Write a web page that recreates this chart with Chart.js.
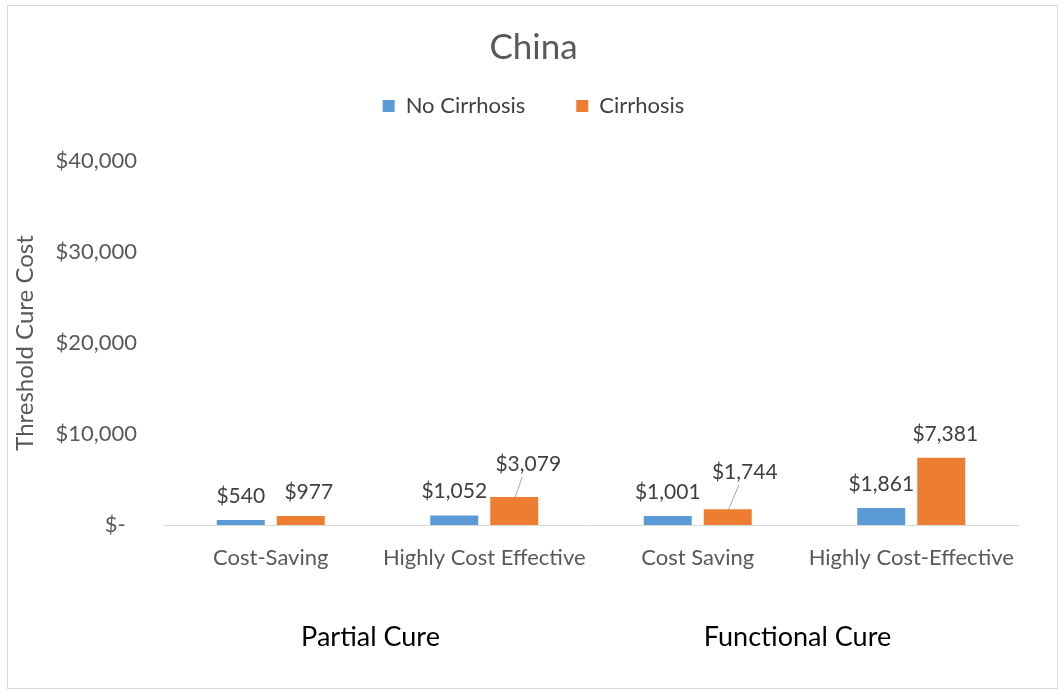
<!DOCTYPE html>
<html>
<head>
<meta charset="utf-8">
<script src="https://cdn.jsdelivr.net/npm/chart.js@4.4.1/dist/chart.umd.min.js"></script>
<style>
  html, body { margin: 0; padding: 0; background: #fff; }
  #frame { position: absolute; left: 7px; top: 5px; width: 1049px; height: 682px; border: 1px solid #d9d9d9; }
  #wrap { position: absolute; left: 0; top: 0; width: 1061px; height: 691px; }
</style>
</head>
<body>
<div id="frame"></div>
<div id="wrap"><canvas id="chart"></canvas></div>
<script>
    var categories = ['Cost-Saving', 'Highly Cost Effective', 'Cost Saving', 'Highly Cost-Effective'];
    var groups = ['Partial Cure', 'Functional Cure'];
    var noCirrhosis = [540, 1052, 1001, 1861];
    var cirrhosis = [977, 3079, 1744, 7381];
    var yTicks = [0, 10000, 20000, 30000, 40000];

    var FONT = 'Lato';
    var GREY = '#595959';

    function money(v) {
        if (v === 0) return '$-  ';
        return '$' + v.toLocaleString('en-US');
    }

    // value labels above the bars, a couple of them pulled out with a leader line
    var barLabels = {
        id: 'barLabels',
        afterDatasetsDraw: function(chart, args, opts) {
            var ctx = chart.ctx;
            ctx.save();
            ctx.font = '21px ' + FONT;
            ctx.fillStyle = '#404040';
            ctx.textAlign = 'center';
            ctx.textBaseline = 'middle';
            chart.data.datasets.forEach(function(ds, di) {
                chart.getDatasetMeta(di).data.forEach(function(bar, i) {
                    var nudge = opts.nudge[di + '-' + i] || [0, 0];
                    var lx = bar.x + nudge[0];
                    var ly = bar.y - 24 + nudge[1];
                    if (nudge[0] > 10) {
                        ctx.strokeStyle = '#a6a6a6';
                        ctx.lineWidth = 1;
                        ctx.beginPath();
                        ctx.moveTo(bar.x + 1, bar.y);
                        ctx.lineTo(lx - 6, ly + 13);
                        ctx.stroke();
                    }
                    ctx.fillText(money(ds.data[i]), lx, ly);
                });
            });
            ctx.restore();
        }
    };

    // make room between the legend and the plot
    var legendSpace = {
        id: 'legendSpace',
        beforeInit: function(chart) {
            var fit = chart.legend.fit;
            chart.legend.fit = function() {
                fit.bind(chart.legend)();
                this.height += 34;
            };
        }
    };

    new Chart(document.getElementById('chart'), {
        type: 'bar',
        data: {
            labels: categories,
            datasets: [
                { label: 'No Cirrhosis', data: noCirrhosis, backgroundColor: '#5b9bd5', xAxisID: 'x' },
                { label: 'Cirrhosis', data: cirrhosis, backgroundColor: '#ed7d31', xAxisID: 'x' }
            ]
        },
        plugins: [barLabels, legendSpace],
        options: {
            responsive: true,
            maintainAspectRatio: false,
            animation: false,
            datasets: { bar: { categoryPercentage: 0.562, barPercentage: 0.8 } },
            layout: { padding: { left: 6, right: 0, top: 0, bottom: 0 } },
            plugins: {
                title: {
                    display: true,
                    text: 'China',
                    color: GREY,
                    font: { family: FONT, size: 35, weight: 'normal' },
                    padding: { top: 27, bottom: -25 }
                },
                legend: {
                    position: 'top',
                    labels: {
                        color: '#404040',
                        font: { family: FONT, size: 22 },
                        boxWidth: 12,
                        boxHeight: 12,
                        padding: 51
                    }
                },
                tooltip: { enabled: false },
                barLabels: { nudge: { '1-0': [8, 0], '1-1': [14, -9], '1-2': [17, -13], '1-3': [4, 0] } }
            },
            scales: {
                x: {
                    position: 'bottom',
                    grid: { display: false },
                    border: { display: true, color: '#d9d9d9', width: 1 },
                    ticks: { color: GREY, font: { family: FONT, size: 22 }, padding: 12, maxRotation: 0, autoSkip: false },
                    afterFit: function(s) { s.height = 70; }
                },
                groups: {
                    type: 'category',
                    position: 'bottom',
                    labels: groups,
                    grid: { display: false },
                    border: { display: false },
                    ticks: { color: '#000', font: { family: FONT, size: 27 }, padding: 18, maxRotation: 0, labelOffset: -7 },
                    afterFit: function(s) { s.height = 96; }
                },
                y: {
                    min: 0,
                    max: 40000,
                    grid: { display: false },
                    border: { display: false },
                    afterBuildTicks: function(s) { s.ticks = yTicks.map(function(v) { return { value: v }; }); },
                    ticks: { color: GREY, font: { family: FONT, size: 22 }, padding: 19, callback: money },
                    title: {
                        display: true,
                        text: 'Threshold Cure Cost',
                        color: GREY,
                        font: { family: FONT, size: 24 },
                        padding: { top: 5, bottom: 0 }
                    },
                    afterFit: function(s) { s.width = 158; }
                },
                // empty right-hand axis that only keeps the plot off the right edge
                spacer: {
                    type: 'linear',
                    position: 'right',
                    grid: { display: false },
                    border: { display: false },
                    ticks: { display: false },
                    afterFit: function(s) { s.width = 43; }
                }
            }
        }
    });
</script>
</body>
</html>
